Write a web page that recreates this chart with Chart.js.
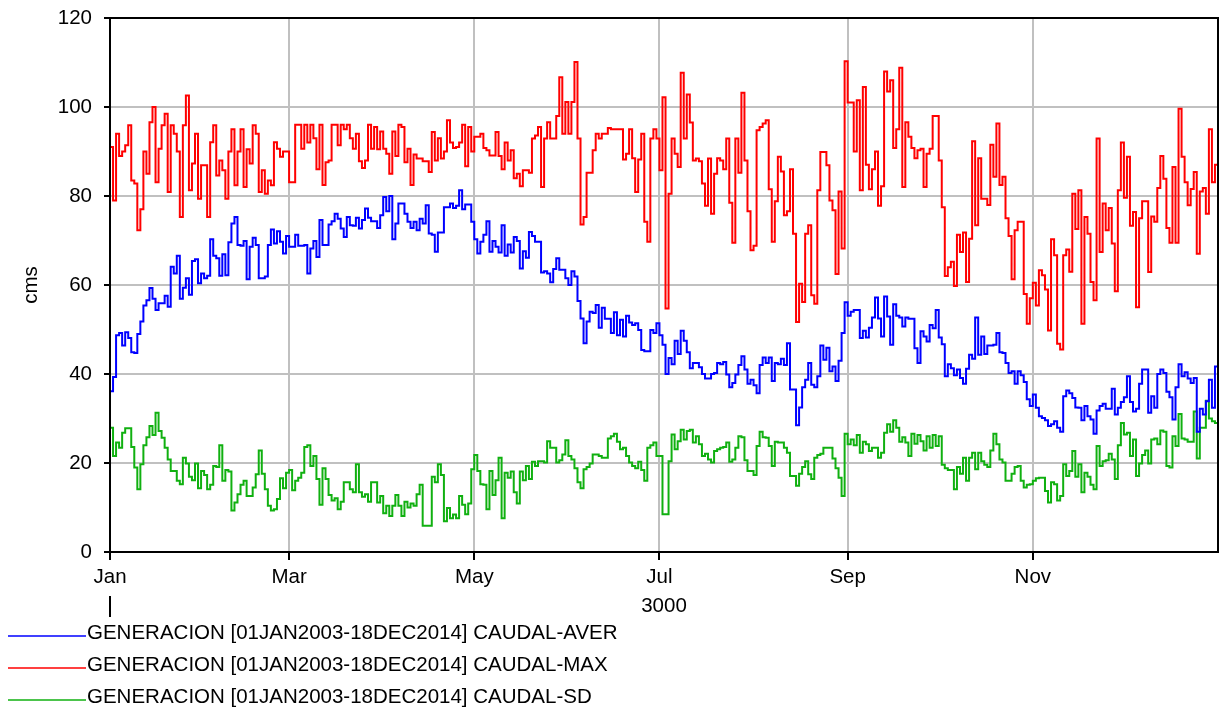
<!DOCTYPE html>
<html>
<head>
<meta charset="utf-8">
<script src="https://cdn.jsdelivr.net/npm/chart.js@4.4.0/dist/chart.umd.min.js"></script>
<style>
  html, body { margin: 0; padding: 0; background: #fff; }
</style>
</head>
<body>
<canvas id="chart" width="1220" height="707"></canvas>
<script>
// month ticks (day of year) and labels
var monthDays = [0, 59, 120, 181, 243, 304];
var monthLabels = ['Jan', 'Mar', 'May', 'Jul', 'Sep', 'Nov'];
var yearLabel = '3000';
var seriesNames = [
    'GENERACION [01JAN2003-18DEC2014] CAUDAL-AVER',
    'GENERACION [01JAN2003-18DEC2014] CAUDAL-MAX',
    'GENERACION [01JAN2003-18DEC2014] CAUDAL-SD'
];
var seriesColors = ['#0000ff', '#ff0000', '#10b010'];

// [day, value] where each value holds until the next day listed
var averSteps = [[0,36.1],[1,39.3],[2,48.7],[3,49.2],[4,46.4],[5,49.4],[6,48.1],[7,44.9],[8,44.7],[9,49],[10,51.8],[11,55.4],[12,56.6],[13,59.3],[14,56.9],[15,54.4],[16,55.9],[18,57.6],[19,55.1],[20,64.1],[21,62.6],[22,66.6],[23,56.9],[24,59.4],[25,61.5],[26,57.8],[27,65.4],[28,65.8],[29,60.4],[30,62.6],[31,61.5],[32,62.1],[33,70.3],[34,66.6],[35,66],[36,62.1],[37,66.9],[38,62.2],[39,69.6],[40,73.8],[41,75.3],[42,69],[43,68.8],[44,69.9],[45,61.3],[46,68.6],[47,70.6],[48,69],[49,61.5],[51,61.9],[52,69],[53,72.5],[54,69.3],[55,72.1],[56,69.7],[57,67.1],[58,71],[59,68.6],
    [61,71.3],[62,68.8],[64,69],[65,62.6],[66,68.2],[67,69.9],[68,66.3],[69,74.6],[70,69],[72,73.6],[73,74.3],[74,76],[75,74.9],[76,72.7],[77,70.8],[78,75.3],[79,73.4],[80,73.3],[81,75.1],[82,72.7],[83,74.6],[84,77.2],[85,75.1],[86,74.3],[88,72.8],[89,75.7],[90,79.8],[91,76.6],[92,80],[93,70.3],[94,73.8],[95,78.3],[97,76],[98,74.2],[99,72.8],[100,74.2],[101,72.3],[102,74.9],[103,73.8],[104,77.9],[105,71.6],[106,71.3],[107,67.5],[108,71.8],[110,77.5],[112,78.3],[113,77.3],[114,77.8],[115,81.3],[116,77],[117,78.1],[119,74.2],[120,70.3],
    [121,67.1],[122,69.7],[123,71.3],[124,74.3],[125,67.5],[126,69.9],[127,68.6],[128,67.3],[129,73.4],[130,66.6],[131,69.1],[132,67.3],[133,70.8],[134,69.9],[135,63.7],[136,67.6],[137,66.1],[138,71.9],[139,71],[140,69.7],[142,62.8],[143,63.1],[144,62.6],[145,60.6],[146,63.6],[147,66],[148,63.4],[150,61.5],[151,60],[152,63.1],[153,61.9],[154,56.4],[155,52.5],[156,46.9],[157,51.8],[158,54],[159,53.7],[160,55.5],[161,50.4],[162,54.9],[163,52.4],[165,49.2],[166,53.9],[167,48.7],[168,52.2],[169,48.4],[170,53.1],[171,51.6],[172,51],[173,51.4],[174,49.9],[175,45.4],[176,45.1],[178,49.9],[179,49.2],[180,51.4],[181,48.7],
    [182,46.6],[183,40],[184,43.6],[185,42.2],[186,47.5],[187,44.5],[188,49.7],[189,47.5],[190,44.9],[191,41.3],[192,42.5],[194,41.5],[195,40],[196,39],[198,40],[199,40.2],[200,42.5],[201,42.2],[202,42.7],[203,39.9],[204,37],[205,38],[206,39.9],[207,42],[208,44],[209,41],[210,37.8],[211,38.7],[212,37.5],[213,35.7],[214,42],[215,43.7],[216,42.5],[217,43.7],[218,38.4],[219,42.5],[220,42.2],[221,43.4],[222,42],[223,46.9],[224,36.5],[226,28.5],[227,32.5],[228,37],[229,38.7],[230,42.5],[231,37.6],[232,37],[233,39.5],[234,46.4],[235,43.2],[236,45.9],[237,40.6],[238,41.7],[239,38.4],[240,43],[241,49.2],[242,56.1],
    [243,53.1],[244,54],[245,54.4],[247,48.1],[248,49.7],[249,48.2],[250,50.4],[251,52.7],[252,57.2],[253,52.5],[254,48.4],[255,57.4],[256,52.9],[257,46.6],[258,55.7],[259,53.1],[260,52.7],[261,50.7],[262,52.7],[263,52.4],[265,45.8],[266,42.5],[267,49.6],[268,48.4],[269,47.3],[270,51],[271,50.3],[272,54.4],[273,48.2],[274,46.7],[275,39.5],[276,42.2],[277,41.3],[278,39.7],[279,41],[280,39.1],[281,37.8],[282,41.2],[283,44.3],[284,43.4],[285,52.7],[286,44.3],[287,48.4],[288,44.5],[289,46.4],[291,46.6],[292,49.2],[293,44.9],[294,44.7],[295,42.5],[296,40.2],[297,40.6],[298,37.8],[299,40.6],[300,39.7],[301,38.2],[302,34.3],[303,32.8],
    [304,35.4],[305,32.4],[306,30.5],[307,30.1],[308,29.6],[309,28.3],[310,28.7],[311,29.4],[312,27.9],[313,27],[314,35],[315,36.3],[316,35.7],[317,34.6],[318,32.5],[319,32.4],[320,29.6],[321,32.8],[322,30.5],[323,29.8],[324,26.6],[325,31.8],[326,32.8],[327,33.3],[328,32.2],[330,36.7],[331,30.9],[332,32.4],[333,33.7],[334,34.8],[335,39.5],[336,33.7],[337,31.6],[338,32.2],[339,37.8],[340,41],[342,31.3],[343,35],[344,32.4],[345,40],[346,41],[347,40.2],[348,36],[349,34.8],[350,29.8],[351,37],[352,42.2],[353,39.5],[354,40.4],[355,39],[356,38],[357,39.1],[358,27],[359,32.2],[360,30.9],[361,33.9],[362,38.7],[363,32.4],[364,41.7]];

var maxSteps = [[0,91],[1,79],[2,94],[3,89],[4,90],[5,91.4],[6,95.9],[7,83.5],[8,82.8],[9,72.3],[10,77],[11,90],[12,85],[13,96.6],[14,100],[15,83.1],[16,90.6],[17,95.9],[18,98.5],[19,80.9],[20,95.9],[21,94],[22,90],[23,75.3],[24,95.9],[25,102.6],[26,81.3],[27,87.3],[28,94],[29,79.4],[30,86.9],[32,75.3],[33,92.1],[34,95.9],[35,84.6],[36,88],[37,85.8],[38,79.4],[39,90],[40,95],[41,82.4],[42,90],[43,95],[44,82],[45,90.5],[46,87.3],[47,95.9],[48,94],[49,80.9],[50,85.8],[51,80.5],[52,83.5],[53,82.4],[54,92.1],[55,90.6],[56,88.8],[57,90],[59,83.1],
    [61,96],[63,90.6],[64,96],[65,92],[66,96],[67,93],[68,86],[69,96],[70,82.5],[71,87.6],[72,88],[73,96],[75,91.4],[76,96],[77,95],[78,96],[79,93],[80,90.6],[81,94],[82,87.8],[83,86.3],[84,88],[85,96],[86,90.6],[87,95.5],[88,90.5],[89,94.5],[90,90.6],[91,89.5],[92,85],[93,94.5],[94,89],[95,96],[96,95.5],[97,87.6],[98,90.6],[99,82.5],[100,89.3],[101,88.4],[103,87.8],[105,85.4],[106,94.4],[107,88],[108,93],[109,88.4],[110,90],[111,97],[112,92],[113,90.8],[114,91],[115,92],[116,96],[117,86.7],[118,95.5],[119,90],[120,93.3],
    [122,94],[123,90.8],[124,90.3],[125,89.1],[127,94.4],[128,89],[129,86],[130,92],[131,88],[132,90.3],[133,84],[134,85],[135,82.2],[136,85.8],[138,85.2],[139,92.9],[140,93.6],[141,95.5],[142,82],[143,92.9],[144,96.6],[145,92.9],[147,98],[148,106.7],[149,94],[150,101.1],[151,94],[152,101.1],[153,110.1],[154,92.9],[155,73.6],[156,75.3],[157,85.2],[159,90.3],[160,94],[161,92.9],[162,94],[164,95.3],[165,95],[169,88.2],[170,89.5],[171,95],[172,88.5],[173,80.9],[174,88.2],[175,94],[176,74.2],[177,69.7],[178,92.9],[179,95],[180,92.9],[181,85.8],[182,102.2],
    [183,54.7],[184,80.5],[185,92.9],[186,89.5],[187,86.5],[188,107.7],[189,92.9],[190,102.8],[191,96.5],[192,88],[193,88.4],[194,87.8],[195,82.8],[196,77.8],[197,88.4],[198,76],[199,85],[200,88.5],[201,88],[202,86],[203,92.9],[204,78.5],[205,69.5],[206,92.9],[207,85.2],[208,103.2],[209,88],[210,76.6],[211,67.8],[212,68.8],[213,94.8],[214,95.5],[215,96.3],[216,97],[217,81.5],[218,69.7],[219,78.8],[220,88.8],[221,85.5],[222,75.7],[223,76.6],[224,86],[225,71.5],[226,51.7],[227,60.3],[228,56.2],[229,71.5],[230,73.4],[231,57.7],[232,55.8],[233,81.3],[234,89.9],[236,86.9],[237,79],[238,76.8],[239,62.5],[240,81],[241,68.2],[242,110.3],
    [243,101],[245,90],[246,101.5],[247,81.3],[248,104.5],[249,87],[250,81.5],[251,86],[252,90],[253,77.8],[254,82.2],[255,108],[256,103.5],[257,106],[258,90.8],[259,95],[260,108.8],[261,82],[262,96.6],[263,93.3],[264,90.8],[265,88.5],[266,90.3],[267,90.6],[268,82],[269,89.5],[270,90.6],[271,98],[273,88],[274,77.5],[275,62],[276,64],[277,65.2],[278,59.8],[279,71.3],[280,67.4],[281,71.8],[282,60.7],[283,70.4],[284,92.3],[285,73.4],[286,88.5],[287,79.4],[289,78],[290,91.5],[291,84.3],[292,96.3],[293,82.5],[294,84.3],[295,75],[296,71],[297,61.3],[298,72.3],[299,74.2],[301,58],[302,51.3],[303,57],
    [304,60.5],[305,55.4],[306,63.3],[307,62.2],[308,59],[309,49.8],[310,70.3],[311,66.7],[312,46.8],[313,45.5],[314,66.7],[315,68],[316,63],[317,80.5],[318,72.6],[319,81.3],[320,51.3],[321,75.3],[322,71.5],[323,60.7],[324,56.6],[325,92.9],[326,67.4],[327,78.3],[328,72.3],[329,77.3],[330,69.3],[331,58.6],[332,81.3],[333,92],[334,79.6],[335,88.8],[336,73.3],[337,76.4],[338,55],[339,75],[340,78.8],[342,62.9],[343,75.4],[344,74.2],[345,81.8],[346,89],[347,83.9],[348,72.8],[349,69.5],[350,86.5],[351,69.5],[352,99.6],[353,88.8],[354,83.1],[355,77.9],[356,81.6],[357,85.4],[358,67],[359,81],[360,81.8],[361,76],[362,95],[363,83.1],[364,87]];

var sdSteps = [[0,27.9],[1,21.6],[2,24.6],[3,23.4],[4,26.8],[5,27.8],[7,23.6],[8,19],[9,14.1],[10,19.7],[11,24],[12,25.8],[13,28.3],[14,26.3],[15,31.3],[16,27.2],[17,25.7],[18,23.4],[19,20.8],[20,18.2],[22,16],[23,15.2],[24,21.2],[25,19.9],[26,16.9],[27,16.1],[28,19.9],[29,14.3],[30,18.2],[31,17.3],[32,14.1],[33,15.1],[34,19.3],[35,19.1],[36,24],[37,16],[38,18.4],[39,18.1],[40,9.3],[41,11.1],[42,13],[43,15.1],[44,16],[45,12.6],[47,14.5],[48,17.5],[49,22.8],[50,17.6],[51,14.1],[52,10.4],[53,9.3],[54,9.6],[55,11.9],[56,16.6],[57,14.3],[58,17.8],[59,18.4],[60,13.9],
    [61,16],[62,16.7],[63,17.8],[64,23.6],[65,24],[66,19.3],[67,21.6],[68,16.4],[69,10.6],[70,18.8],[71,16.4],[72,12.8],[73,11.6],[74,12.1],[75,9.6],[76,11.3],[77,15.7],[79,14.1],[80,13.4],[81,19.7],[82,13.4],[83,12.4],[84,13],[85,11.3],[86,15.7],[88,11.1],[89,12.6],[90,8.7],[91,10.4],[92,8.1],[93,10.4],[94,12.8],[95,10.4],[96,8.1],[97,11.3],[98,10],[99,10.9],[100,10.4],[101,13],[102,15.1],[103,5.9],[106,16.9],[107,15.7],[108,19.7],[109,17.3],[110,6.9],[111,9.9],[112,7.6],[113,8.4],[114,7.6],[115,12.6],[116,10.6],[117,8.5],[118,10.9],[119,18.6],[120,21.8],
    [121,18.2],[122,15.2],[123,15.1],[124,9.6],[125,18.2],[126,12.8],[127,16.1],[128,21.2],[129,7.6],[130,17.8],[131,16.7],[132,18.1],[133,13.4],[134,10.9],[135,18.1],[136,16.1],[137,19.3],[138,16.4],[139,20.3],[140,19.3],[141,20.4],[143,20.1],[144,24.9],[145,23.4],[147,20.1],[148,20.6],[149,21.9],[150,25.1],[151,21.6],[152,20.8],[153,18.8],[154,15.7],[155,14.3],[156,18.6],[157,19.1],[158,19.9],[159,21.9],[161,21.6],[162,21.2],[164,25.5],[165,26],[166,26.6],[167,24.8],[168,23.1],[169,23.4],[170,21.6],[171,20.1],[172,19.3],[173,18.8],[174,20.3],[175,18.4],[176,16],[177,23.4],[178,24],[179,24.6],[180,21.6],
    [182,8.5],[184,20.4],[185,26.4],[186,23.1],[187,24.9],[188,27.5],[189,25.3],[190,27.2],[191,27.5],[192,24.6],[193,26],[194,24.2],[195,21.6],[196,22.1],[197,20.8],[198,20.1],[199,22.7],[200,23.1],[201,23.4],[202,23.6],[203,24.6],[204,20.3],[205,20.8],[206,23.4],[207,26],[208,25.8],[209,20.6],[210,18.2],[212,17.3],[213,23.8],[214,27],[215,25.8],[216,25.7],[217,23.8],[218,19.3],[219,24.8],[220,24.6],[222,23.4],[223,22.3],[224,17.1],[226,14.9],[227,17.6],[228,19.1],[229,20.4],[230,17.5],[231,16.4],[232,21.2],[233,21.8],[234,22.1],[235,23.4],[238,21],[239,18.8],[240,16.7],[241,12.6],[242,26.6],
    [243,24.2],[244,25.3],[245,24],[246,26.3],[247,22.3],[248,24.8],[249,24.2],[250,22.7],[251,23.4],[253,21.2],[254,22.3],[255,26.8],[256,28.7],[257,27],[258,29.6],[259,27.9],[260,24.8],[261,25.8],[262,24.6],[263,21.6],[264,26.6],[265,24.3],[266,26.3],[267,24.9],[268,22.8],[269,26],[270,23.4],[271,26.3],[272,23.8],[273,26],[274,19.6],[275,18.8],[276,18.4],[278,14.1],[279,19.1],[280,17.6],[281,21.2],[282,16],[283,21.2],[284,22.3],[285,18.6],[286,22.3],[287,20.4],[288,19.6],[289,19.1],[290,22.8],[291,26.6],[292,24.2],[293,20.8],[294,20.1],[295,16],[297,17.6],[298,19.1],[299,19.3],[300,16],[301,14.5],[302,15.1],[303,15.2],
    [304,16],[305,16.6],[306,16.7],[308,13.7],[309,11.1],[310,15.7],[311,15.2],[312,11.6],[313,12.6],[314,19.7],[315,17.1],[316,18.2],[317,22.7],[318,16.9],[319,19.7],[320,13.4],[321,17.8],[322,16.9],[323,15.1],[324,14.1],[325,23.8],[326,19.3],[327,20.4],[328,20.6],[329,22.1],[330,20.8],[331,16.4],[332,24],[333,29],[334,26.4],[335,26.8],[336,21.6],[337,25.3],[338,17.1],[339,19.9],[340,21.8],[341,22.8],[342,19.9],[343,25.3],[344,25.5],[345,24.2],[346,27.3],[347,27],[348,19.3],[349,19],[350,26],[351,23.8],[352,31],[353,25.5],[354,25.3],[355,24.8],[357,31.6],[358,21],[359,27.9],[361,34],[362,30],[363,29.4],[364,29]];

var FONT = "'Liberation Sans', Arial, sans-serif";
var FONT_SIZE = 20.5;
var yearEnd = 365;

function toPoints(steps) {
    var pts = steps.map(function (s) { return { x: s[0], y: s[1] }; });
    pts.push({ x: yearEnd, y: steps[steps.length - 1][1] });
    return pts;
}

function makeSet(i, steps) {
    return {
        label: seriesNames[i],
        data: toPoints(steps),
        borderColor: seriesColors[i],
        backgroundColor: seriesColors[i],
        borderWidth: 2,
        pointRadius: 0,
        stepped: true,
        fill: false
    };
}

// frame, year divider under Jan, and the legend rows
var extras = {
    id: 'extras',
    afterDraw: function (chart) {
        var ctx = chart.ctx;
        var a = chart.chartArea;
        var xs = chart.scales.x;
        ctx.save();
        ctx.strokeStyle = '#000';
        ctx.lineWidth = 2;
        ctx.strokeRect(a.left, a.top, a.right - a.left, a.bottom - a.top);

        var jx = Math.round(xs.getPixelForValue(0));
        ctx.beginPath();
        ctx.moveTo(jx, a.bottom + 44);
        ctx.lineTo(jx, a.bottom + 65);
        ctx.stroke();

        ctx.font = FONT_SIZE + 'px ' + FONT;
        ctx.textBaseline = 'middle';
        ctx.textAlign = 'left';
        for (var i = 0; i < seriesNames.length; i++) {
            var y = 633 + i * 32;
            ctx.strokeStyle = seriesColors[i];
            ctx.lineWidth = 1.5;
            ctx.beginPath();
            ctx.moveTo(8, y + 3);
            ctx.lineTo(86, y + 3);
            ctx.stroke();
            ctx.fillStyle = '#000';
            ctx.fillText(seriesNames[i], 87, y);
        }
        ctx.restore();
    }
};

var ctx = document.getElementById('chart').getContext('2d');
var chart = new Chart(ctx, {
    type: 'line',
    data: {
        datasets: [makeSet(1, maxSteps), makeSet(0, averSteps), makeSet(2, sdSteps)]
    },
    options: {
        responsive: false,
        animation: false,
        devicePixelRatio: 1,
        layout: { padding: { top: 18, right: 2, left: 0, bottom: 0 } },
        plugins: { legend: { display: false }, tooltip: { enabled: false } },
        scales: {
            x: {
                type: 'linear',
                min: 0,
                max: yearEnd,
                afterBuildTicks: function (scale) {
                    scale.ticks = monthDays.map(function (d) { return { value: d }; });
                },
                afterFit: function (scale) {
                    scale.height = 155;
                    scale.paddingLeft = 0;
                    scale.paddingRight = 0;
                },
                ticks: {
                    autoSkip: false,
                    maxRotation: 0,
                    padding: 5,
                    color: '#000',
                    font: { family: FONT, size: FONT_SIZE },
                    callback: function (v, i) { return monthLabels[i]; }
                },
                grid: { color: '#c0c0c0', lineWidth: 2, tickColor: '#000', tickLength: 8, tickWidth: 2 },
                border: { color: '#000', width: 2 },
                title: {
                    display: true,
                    text: yearLabel,
                    color: '#000',
                    font: { family: FONT, size: FONT_SIZE },
                    padding: { top: 0, bottom: 88 }
                }
            },
            y: {
                min: 0,
                max: 120,
                afterFit: function (scale) {
                    scale.width = 110;
                    scale.paddingTop = 0;
                    scale.paddingBottom = 0;
                },
                ticks: { stepSize: 20, color: '#000', padding: 12, font: { family: FONT, size: FONT_SIZE } },
                grid: { color: '#c0c0c0', lineWidth: 2, tickColor: '#000', tickLength: 6, tickWidth: 2 },
                border: { color: '#000', width: 2 },
                title: {
                    display: true,
                    text: 'cms',
                    color: '#000',
                    font: { family: FONT, size: FONT_SIZE },
                    padding: { top: 19, bottom: 0 }
                }
            }
        }
    },
    plugins: [extras]
});
</script>
</body>
</html>
